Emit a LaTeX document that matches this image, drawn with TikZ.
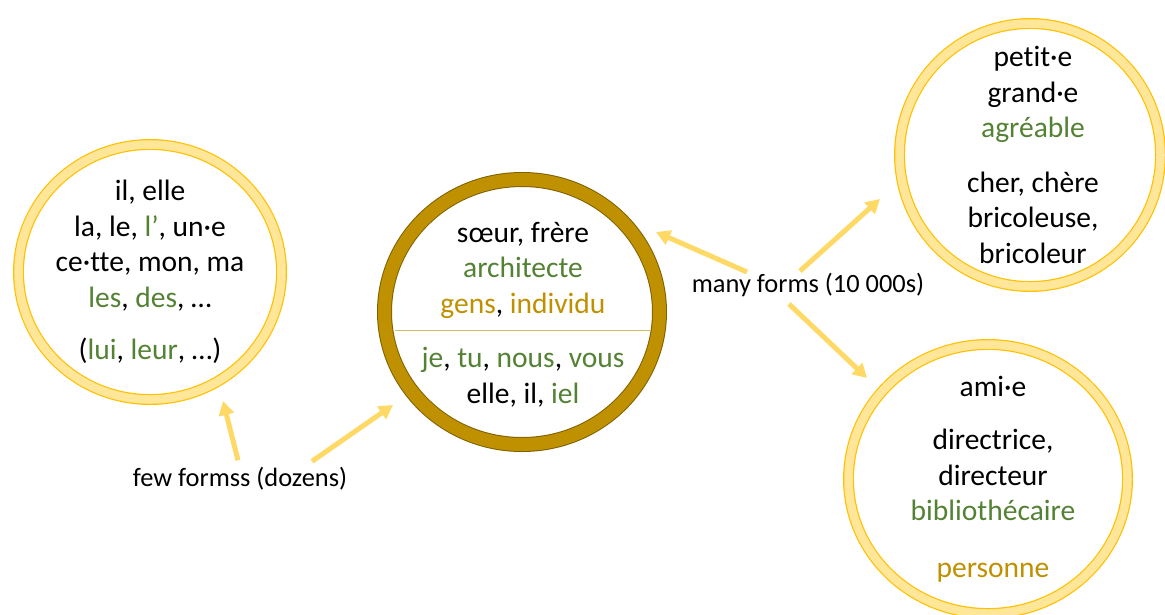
\documentclass[tikz,border=0pt]{standalone}
\usepackage{fontspec}
\setmainfont{Carlito}[Ligatures={NoCommon}]
\usepackage{xcolor}
\usetikzlibrary{positioning}
\usetikzlibrary{arrows.meta}
\usetikzlibrary{shapes.geometric}
\definecolor{ringline}{HTML}{FFC000}
\definecolor{ringfill}{HTML}{FFE699}
\definecolor{arrowyel}{HTML}{FFD966}
\definecolor{gold}{HTML}{BF9000}
\definecolor{darkgold}{HTML}{7F6000}
\definecolor{leaf}{HTML}{548235}
\newcommand{\grn}[1]{\textcolor{leaf}{#1}}
\newcommand{\gld}[1]{\textcolor{gold}{#1}}

\begin{document}
\begin{tikzpicture}[
            x = 1pt, y = -1pt, % one unit per pixel, y downwards
            > = {Triangle[width=15pt,length=14pt]}, % arrow head style
            every node/.style = {font=\fontsize{29.5}{35.5}\selectfont, align=center}
        ]

        \tikzstyle{ring}=[
            ellipse,
            inner sep = 0pt,
            draw = ringline,
            line width = 1.2pt,
            double = ringfill,
            double distance = 8.5pt
        ]
        \tikzstyle{core}=[
            ellipse,
            inner sep = 0pt,
            draw = darkgold,
            line width = 1pt,
            double = gold,
            double distance = 13pt
        ]
        \tikzstyle{tag}=[font=\fontsize{26.4}{32}\selectfont, inner sep = 0pt]
        \tikzstyle{flow}=[->, draw = arrowyel, line width = 5pt]

        \path[use as bounding box, clip] (0,0) rectangle (1165,614);

        % closed classes
        \node[ring, minimum width = 263pt, minimum height = 255pt] (DET) at (150,272) {};
        \node (DETT) at (DET.center) {il, elle\\ la, le, \grn{l’}, un·e\\ ce·tte, mon, ma\\ \grn{les}, \grn{des}, …\\[17pt] (\grn{lui}, \grn{leur}, …)};

        % nouns and pronouns
        \node[core, minimum width = 275pt, minimum height = 265pt] (NOUN) at (522,312) {};
        \node (NOUNT) at (523,270) {sœur, frère\\ \grn{architecte}\\ \gld{gens}, \gld{individu}};
        \node (PRON) at (523,377) {\grn{je}, \grn{tu}, \grn{nous}, \grn{vous}\\ elle, il, \grn{iel}};
        \draw[gold!60, line width = 1pt] ([xshift=-127pt,yshift=-18pt]NOUN.center) -- ([xshift=128pt,yshift=-18pt]NOUN.center);

        % open classes
        \node[ring, minimum width = 261pt, minimum height = 263pt] (ADJ) at (1030,155) {};
        \node (ADJT) at (1033,155) {petit·e\\ grand·e\\ \grn{agréable}\\[19pt] cher, chère\\ bricoleuse,\\ bricoleur};

        \node[ring, minimum width = 279pt, minimum height = 269pt] (AGT) at (988,479) {};
        \node (AGTT) at (993,479) {ami·e\\[18pt] directrice,\\ directeur\\ \grn{bibliothécaire}\\[21pt] \gld{personne}};

        % labels
        \node[tag] (FEW) at (240,479) {few formss (dozens)};
        \node[tag] (MANY) at (808,285) {many forms (10 000s)};

        \coordinate (TD) at (223,401);
        \coordinate (TN) at (393,405);
        \coordinate (TL) at (656,232);
        \coordinate (TA) at (880,199);
        \coordinate (TG) at (867,378);

        \draw[flow] ([xshift=-2pt,yshift=7pt]FEW.north) -- (TD);
        \draw[flow] ([xshift=72pt,yshift=6pt]FEW.north) -- (TN);
        \draw[flow] ([xshift=-61pt,yshift=1pt]MANY.north) -- (TL);
        \draw[flow] ([xshift=-8pt,yshift=2pt]MANY.north) -- (TA);
        \draw[flow] ([xshift=-19pt,yshift=-7pt]MANY.south) -- (TG);

\end{tikzpicture}
\end{document}
